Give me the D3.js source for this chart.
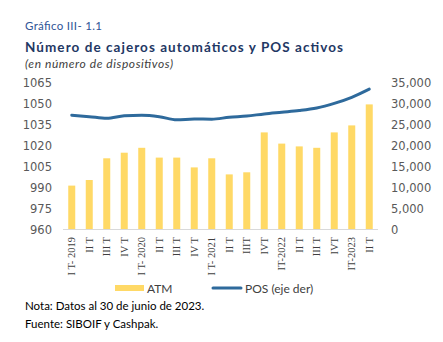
<!DOCTYPE html>
<html lang="es">
  <head>
    <meta charset="UTF-8" />
    <script src="https://d3js.org/d3.v7.min.js"></script>
    <style>
      body { margin: 0; background: #fff; }
      text { font-family: 'DejaVu Sans', sans-serif; }
    </style>
  </head>
  <body>
    <script>
      // datos
      const quarters = ['I T- 2019', 'II T', 'III T', 'IV T', 'I T- 2020', 'II T', 'III T', 'IV T',
        'I T- 2021', 'II T', 'IIIT', 'IVT', 'IT-2022', 'II T', 'III T', 'IVT', 'IT-2023', 'II T']
      const atm = [991, 995, 1010.5, 1014.5, 1018, 1011, 1011, 1004, 1010.5, 999, 1000.5, 1029,
        1021, 1019, 1018, 1029, 1034, 1049]
      const pos = [27100, 26750, 26350, 26950, 27100, 26750, 26000, 26200, 26150, 26600, 26900,
        27400, 27800, 28200, 28800, 29900, 31350, 33300]
      const leftTicks = [960, 975, 990, 1005, 1020, 1035, 1050, 1065]
      const rightTicks = [0, 5000, 10000, 15000, 20000, 25000, 30000, 35000]

      const W = 443, H = 342
      const plot = { left: 63, right: 378, top: 82, bottom: 229 }

      const svg = d3.select('body').append('svg').attr('width', W).attr('height', H)

      const x = d3.scaleBand().domain(d3.range(quarters.length))
        .range([plot.left, plot.right]).paddingInner(0.6).paddingOuter(0.3)
      const yL = d3.scaleLinear().domain([960, 1065]).range([plot.bottom, plot.top])
      const yR = d3.scaleLinear().domain([0, 35000]).range([plot.bottom, plot.top])

      // titulos
      svg.append('text').attr('x', 25).attr('y', 30)
        .style('font-family', 'Lato').style('font-size', '11.5px').attr('fill', '#2F5597')
        .attr('textLength', 77)
        .text('Gráfico III- 1.1')
      svg.append('text').attr('x', 25).attr('y', 52)
        .style('font-family', 'Lato').style('font-size', '13.5px').style('font-weight', 'bold')
        .attr('fill', '#1F3864').attr('textLength', 318)
        .text('Número de cajeros automáticos y POS activos')
      svg.append('text').attr('x', 25).attr('y', 68)
        .style('font-family', 'Lato').style('font-size', '12px').style('font-style', 'italic')
        .attr('fill', '#404040').attr('textLength', 148)
        .text('(en número de dispositivos)')

      // barras ATM
      svg.append('g').selectAll('rect').data(atm).enter().append('rect')
        .attr('x', (d, i) => x(i))
        .attr('y', d => yL(d))
        .attr('width', x.bandwidth())
        .attr('height', d => yL(960) - yL(d))
        .attr('fill', '#FFD966')

      // eje x
      svg.append('line').attr('x1', plot.left).attr('x2', plot.right)
        .attr('y1', plot.bottom + 0.5).attr('y2', plot.bottom + 0.5)
        .attr('stroke', '#D9D9D9').attr('stroke-width', 1)

      // linea POS
      const line = d3.line()
        .x((d, i) => x(i) + x.bandwidth() / 2)
        .y(d => yR(d))
        .curve(d3.curveMonotoneX)
      svg.append('path').datum(pos).attr('d', line)
        .attr('fill', 'none').attr('stroke', '#2E6A9C').attr('stroke-width', 3)
        .attr('stroke-linecap', 'round')

      // ejes y
      svg.append('g').selectAll('text').data(leftTicks).enter().append('text')
        .attr('x', 52).attr('y', d => yL(d) + 4.5)
        .attr('text-anchor', 'end').style('font-size', '11.5px').attr('fill', '#595959')
        .text(d => d)
      svg.append('g').selectAll('text').data(rightTicks).enter().append('text')
        .attr('x', 391).attr('y', d => yR(d) + 4.5)
        .style('font-size', '11.5px').attr('fill', '#595959')
        .text(d => d3.format(',')(d))

      // etiquetas trimestres
      svg.append('g').selectAll('text').data(quarters).enter().append('text')
        .attr('transform', (d, i) => 'translate(' + (x(i) + x.bandwidth() / 2 + 3.5) + ',' + 237 + ') rotate(-90)')
        .attr('text-anchor', 'end')
        .style('font-family', 'Liberation Serif').style('font-size', '10.5px').attr('fill', '#404040')
        .text(d => d)

      // leyenda
      const lg = svg.append('g')
      lg.append('rect').attr('x', 115).attr('y', 285).attr('width', 29).attr('height', 6).attr('fill', '#FFD966')
      lg.append('text').attr('x', 147).attr('y', 292.5).style('font-family', 'Lato')
        .style('font-size', '12px').attr('fill', '#404040').text('ATM')
      lg.append('line').attr('x1', 213).attr('x2', 241).attr('y1', 288).attr('y2', 288)
        .attr('stroke', '#2E6A9C').attr('stroke-width', 3).attr('stroke-linecap', 'round')
      lg.append('text').attr('x', 245).attr('y', 292.5).style('font-family', 'Lato')
        .style('font-size', '12px').attr('fill', '#404040').text('POS (eje der)')

      // notas
      svg.append('text').attr('x', 25).attr('y', 310).style('font-family', 'Lato')
        .style('font-size', '11.5px').attr('fill', '#000').text('Nota: Datos al 30 de junio de 2023.')
      svg.append('text').attr('x', 25).attr('y', 328).style('font-family', 'Lato')
        .style('font-size', '11.5px').attr('fill', '#000').text('Fuente: SIBOIF y Cashpak.')
    </script>
  </body>
</html>
